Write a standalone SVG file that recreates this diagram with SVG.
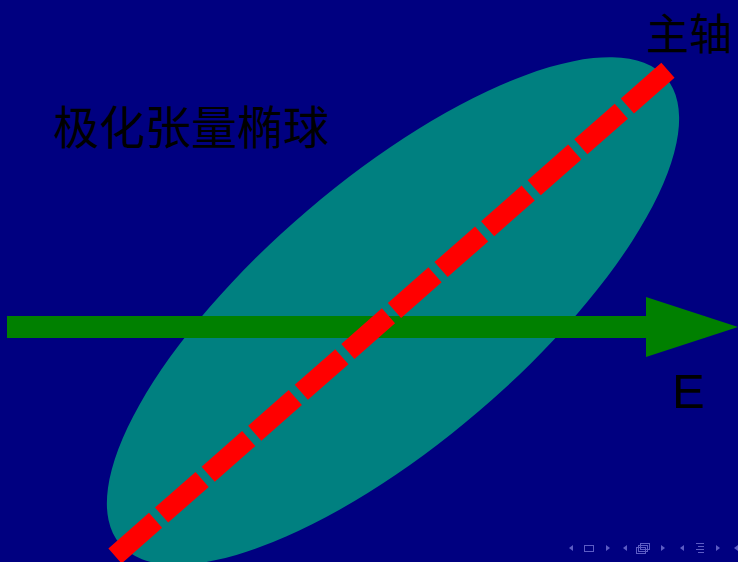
<svg xmlns="http://www.w3.org/2000/svg" width="738" height="562" viewBox="0 0 738 562">
  <style>
    .cjk { font-family: "Noto Sans CJK SC", "Noto Sans", sans-serif; fill: #000000; }
    .lat { font-family: "Liberation Sans", Arial, sans-serif; fill: #000000; }
    .nav { fill: #5c5cc4; }
    .navs { fill: none; stroke: #5c5cc4; stroke-width: 1; }
  </style>
  <rect x="0" y="0" width="738" height="562" fill="#000080"/>
  <g id="ellipsoid">
    <ellipse cx="393" cy="311" rx="359" ry="132" fill="#008080" transform="rotate(-40.5 393 311)"/>
  </g>
  <g id="connectors">
    <g id="field-E">
      <rect x="7" y="316" width="698" height="22" fill="#008000"/>
      <polygon points="646,297 738,327 646,357" fill="#008000"/>
    </g>
    <g id="principal-axis">
      <line x1="115" y1="556" x2="670.5" y2="68" stroke="#ff0000" stroke-width="20" stroke-dasharray="54 8"/>
    </g>
  </g>
  <g id="label-axis">
    <text class="cjk" x="646" y="50" font-size="43">主轴</text>
  </g>
  <g id="label-title">
    <text class="cjk" x="53" y="144" font-size="46">极化张量椭球</text>
  </g>
  <g id="label-E">
    <text class="lat" x="672" y="408" font-size="49">E</text>
  </g>
  <g id="nav-symbols">
    <polygon class="nav" points="573,545 573,551 569,548"/>
    <rect class="navs" x="584.5" y="545.5" width="9" height="6"/>
    <polygon class="nav" points="606,545 606,551 610,548"/>
    <polygon class="nav" points="627,545 627,551 623,548"/>
    <rect class="navs" x="640.5" y="543.5" width="9" height="6"/>
    <rect class="navs" x="638.5" y="545.5" width="9" height="6"/>
    <rect class="navs" x="636.5" y="547.5" width="9" height="6"/>
    <polygon class="nav" points="661,545 661,551 665,548"/>
    <polygon class="nav" points="684,545 684,551 680,548"/>
    <rect class="nav" x="696" y="543" width="8" height="1"/>
    <rect class="nav" x="698" y="546" width="6" height="1"/>
    <rect class="nav" x="696" y="549" width="8" height="1"/>
    <rect class="nav" x="698" y="552" width="6" height="1"/>
    <polygon class="nav" points="716,545 716,551 720,548"/>
    <polygon class="nav" points="738,545 738,551 734,548"/>
  </g>
</svg>
